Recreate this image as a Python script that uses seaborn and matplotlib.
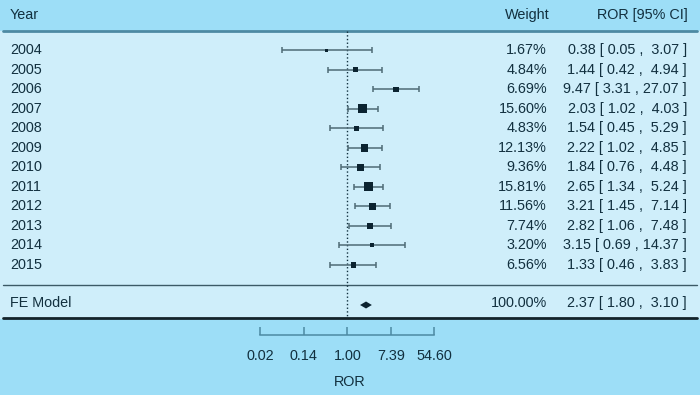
import numpy as np
import pandas as pd
import seaborn as sns
import matplotlib.pyplot as plt
from matplotlib.transforms import blended_transform_factory

# данные
years = ['2004', '2005', '2006', '2007', '2008', '2009', '2010', '2011', '2012', '2013', '2014', '2015']
weights = [1.67, 4.84, 6.69, 15.60, 4.83, 12.13, 9.36, 15.81, 11.56, 7.74, 3.20, 6.56]
ror = [0.38, 1.44, 9.47, 2.03, 1.54, 2.22, 1.84, 2.65, 3.21, 2.82, 3.15, 1.33]
ci_lo = [0.05, 0.42, 3.31, 1.02, 0.45, 1.02, 0.76, 1.34, 1.45, 1.06, 0.69, 0.46]
ci_hi = [3.07, 4.94, 27.07, 4.03, 5.29, 4.85, 4.48, 5.24, 7.14, 7.48, 14.37, 3.83]
fe_label = 'FE Model'
fe_weight = 100.00
fe_ror, fe_lo, fe_hi = 2.37, 1.80, 3.10
tick_vals = np.exp([-4, -2, 0, 2, 4])
tick_labels = ['0.02', '0.14', '1.00', '7.39', '54.60']

# оформление
outer_bg = '#9ddef7'
inner_bg = '#cfeefa'
text_c = '#12303f'
line_c = '#4d8aa3'
mark_c = '#0b2330'
ci_c = '#4f6b76'

sns.set_theme(style='white')
plt.rcParams['font.family'] = ['Liberation Sans', 'DejaVu Sans']
fs = 10.4

W, H = 700, 395
ax_h = 335
fig = plt.figure(figsize=(W / 100, H / 100), dpi=100, facecolor=outer_bg)
ax = fig.add_axes([0, (H - ax_h) / H, 1, ax_h / H])
ax.set_facecolor('none')

x0, px_per_ln = 347.3, 21.7
ax.set_xscale('log')
ax.set_xlim(np.exp(-x0 / px_per_ln), np.exp((W - x0) / px_per_ln))
ax.set_ylim(ax_h, 0)

row_y = 50.3 + 19.5 * np.arange(len(years))
fe_y = 305

df = pd.DataFrame({'year': years, 'w': weights, 'ror': ror, 'lo': ci_lo, 'hi': ci_hi, 'y': row_y})

# панель и линии
ax.axhspan(31, 318, color=inner_bg, zorder=0)
ax.axhline(31, xmin=3 / W, xmax=697 / W, color=line_c, lw=2, zorder=1)
ax.axhline(285, xmin=3 / W, xmax=697 / W, color='#3c5a66', lw=1, zorder=1)
ax.axhline(318, xmin=3 / W, xmax=697 / W, color='#13232a', lw=2, zorder=1)
ax.vlines(1.0, 31, 318, colors=text_c, linestyles=':', lw=1, zorder=1)

# доверительные интервалы
ax.errorbar(df['ror'], df['y'], xerr=[df['ror'] - df['lo'], df['hi'] - df['ror']],
            fmt='none', ecolor=ci_c, elinewidth=1.1, capsize=2.2, capthick=1.1, zorder=2)

# квадраты, размер по весу
side_px = 2.85 + 0.39 * df['w']
sns.scatterplot(data=df, x='ror', y='y', marker='s', s=(side_px * 0.72) ** 2,
                color=mark_c, linewidth=0, ax=ax, zorder=3, legend=False)

# ромб итоговой оценки
dh = 3.5
ax.fill([fe_lo, fe_ror, fe_hi, fe_ror], [fe_y, fe_y - dh, fe_y, fe_y + dh],
        color=mark_c, lw=0, zorder=3)

# текстовые колонки
tr = blended_transform_factory(ax.transAxes, ax.transData)
ax.text(10 / W, 15, 'Year', transform=tr, ha='left', va='center', fontsize=fs, color=text_c)
ax.text(550 / W, 15, 'Weight', transform=tr, ha='right', va='center', fontsize=fs, color=text_c)
ax.text(688 / W, 15, 'ROR [95% CI]', transform=tr, ha='right', va='center', fontsize=fs, color=text_c)


def ci_text(e, lo, hi):
    return f'{e:.2f} [{lo:5.2f} , {hi:5.2f} ]'


for yr, w, e, lo, hi, y in zip(years, weights, ror, ci_lo, ci_hi, row_y):
    ax.text(10 / W, y, yr, transform=tr, ha='left', va='center', fontsize=fs, color=text_c)
    ax.text(547 / W, y, f'{w:.2f}%', transform=tr, ha='right', va='center', fontsize=fs, color=text_c)
    ax.text(687 / W, y, ci_text(e, lo, hi), transform=tr, ha='right', va='center', fontsize=fs, color=text_c)

ax.text(10 / W, fe_y - 2, fe_label, transform=tr, ha='left', va='center', fontsize=fs, color=text_c)
ax.text(547 / W, fe_y - 2, f'{fe_weight:.2f}%', transform=tr, ha='right', va='center', fontsize=fs, color=text_c)
ax.text(687 / W, fe_y - 2, ci_text(fe_ror, fe_lo, fe_hi), transform=tr, ha='right', va='center',
        fontsize=fs, color=text_c)

# ось
for side in ['top', 'left', 'right']:
    ax.spines[side].set_visible(False)
ax.spines['bottom'].set_visible(True)
ax.spines['bottom'].set_color(line_c)
ax.spines['bottom'].set_linewidth(1.1)
ax.spines['bottom'].set_bounds(tick_vals[0], tick_vals[-1])
ax.set_xticks(tick_vals)
ax.set_xticklabels(tick_labels)
ax.xaxis.set_minor_locator(plt.NullLocator())
ax.set_yticks([])
ax.tick_params(axis='x', direction='in', length=5.8, width=1.1, color=line_c,
               pad=10, labelsize=fs, labelcolor=text_c, bottom=True)
ax.set_xlabel('ROR', fontsize=fs, color=text_c, labelpad=9)
ax.set_ylabel('')
ax.grid(False)

fig.savefig('out.png', dpi=100, facecolor=fig.get_facecolor())
